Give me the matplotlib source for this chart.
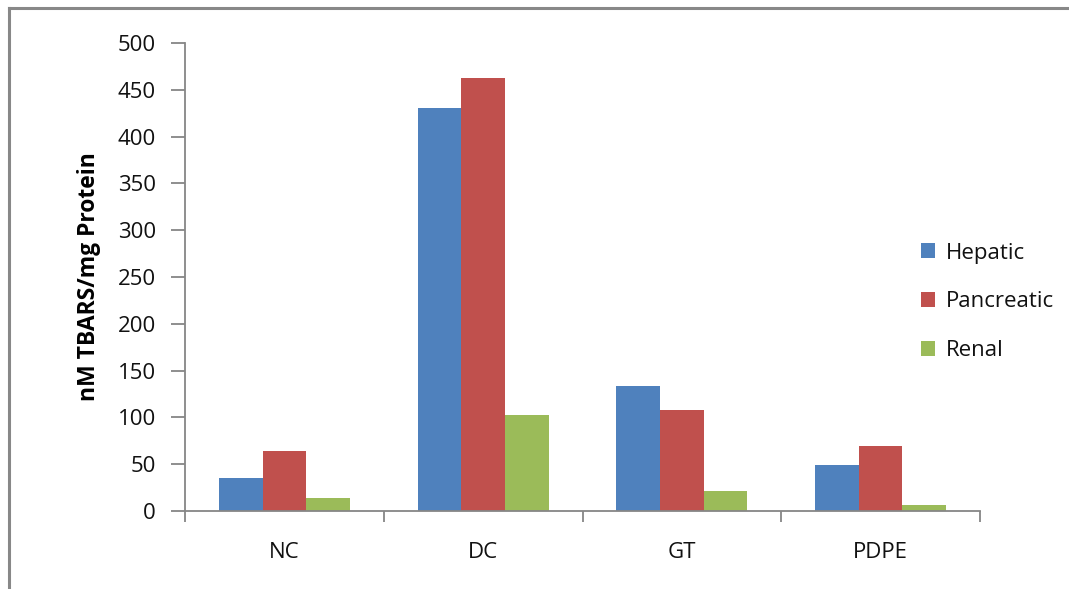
import matplotlib
matplotlib.use("Agg")
import matplotlib.pyplot as plt
import numpy as np
from matplotlib.lines import Line2D

categories = ["NC", "DC", "GT", "PDPE"]
series_names = ["Hepatic", "Pancreatic", "Renal"]
hepatic = [35, 431, 134, 49]
pancreatic = [64, 463, 108, 69]
renal = [14, 103, 21, 6.5]
yticks = [0, 50, 100, 150, 200, 250, 300, 350, 400, 450, 500]

colors = ["#4F81BD", "#C0504D", "#9BBB59"]
axis_gray = "#868686"

plt.rcParams["font.family"] = ["Open Sans", "DejaVu Sans"]

W, H = 1069, 589
fig = plt.figure(figsize=(W / 100, H / 100), dpi=100)

# outer frame (top and left edges only visible)
fig.add_artist(Line2D([9 / W, 9 / W], [0, 1 - 7.5 / H], color="#888888", lw=2.2,
                      transform=fig.transFigure))
fig.add_artist(Line2D([9 / W, 1], [1 - 7.5 / H, 1 - 7.5 / H], color="#888888", lw=2.2,
                      transform=fig.transFigure))

ax = fig.add_axes([185 / W, (H - 511) / H, (980 - 185) / W, (511 - 43) / H])

x = np.arange(len(categories))
w = 0.22
for i, (vals, name) in enumerate(zip([hepatic, pancreatic, renal], series_names)):
    ax.bar(x + (i - 1) * w, vals, w, color=colors[i], label=name, zorder=2)

ax.set_xlim(-0.5, len(categories) - 0.5)
ax.set_ylim(0, 500)
ax.set_yticks(yticks)
ax.set_yticklabels([str(t) for t in yticks], fontsize=16, color="#111111")
ax.set_xticks(x)
ax.set_xticklabels(categories, fontsize=16, color="#111111")
ax.set_xticks(np.arange(len(categories) + 1) - 0.5, minor=True)
ax.tick_params(axis="x", which="major", length=0, pad=22)
ax.tick_params(axis="x", which="minor", length=8, color=axis_gray, width=1.3, direction="out")
ax.tick_params(axis="y", length=10, color=axis_gray, width=1.3, direction="out", pad=11)

for s in ["top", "right"]:
    ax.spines[s].set_visible(False)
for s in ["left", "bottom"]:
    ax.spines[s].set_color(axis_gray)
    ax.spines[s].set_linewidth(1.3)

ax.set_ylabel("nM TBARS/mg Protein", fontsize=16.5, fontweight="bold")
ax.yaxis.set_label_coords((101 - 185) / 795, 0.5)

leg = ax.legend(loc="center left", bbox_to_anchor=(0.9, 0.447), frameon=False,
                fontsize=16, handlelength=0.65, handleheight=0.65, handletextpad=0.5,
                labelspacing=1.25)
for t in leg.get_texts():
    t.set_color("#111111")

fig.savefig("out.png", dpi=100)
